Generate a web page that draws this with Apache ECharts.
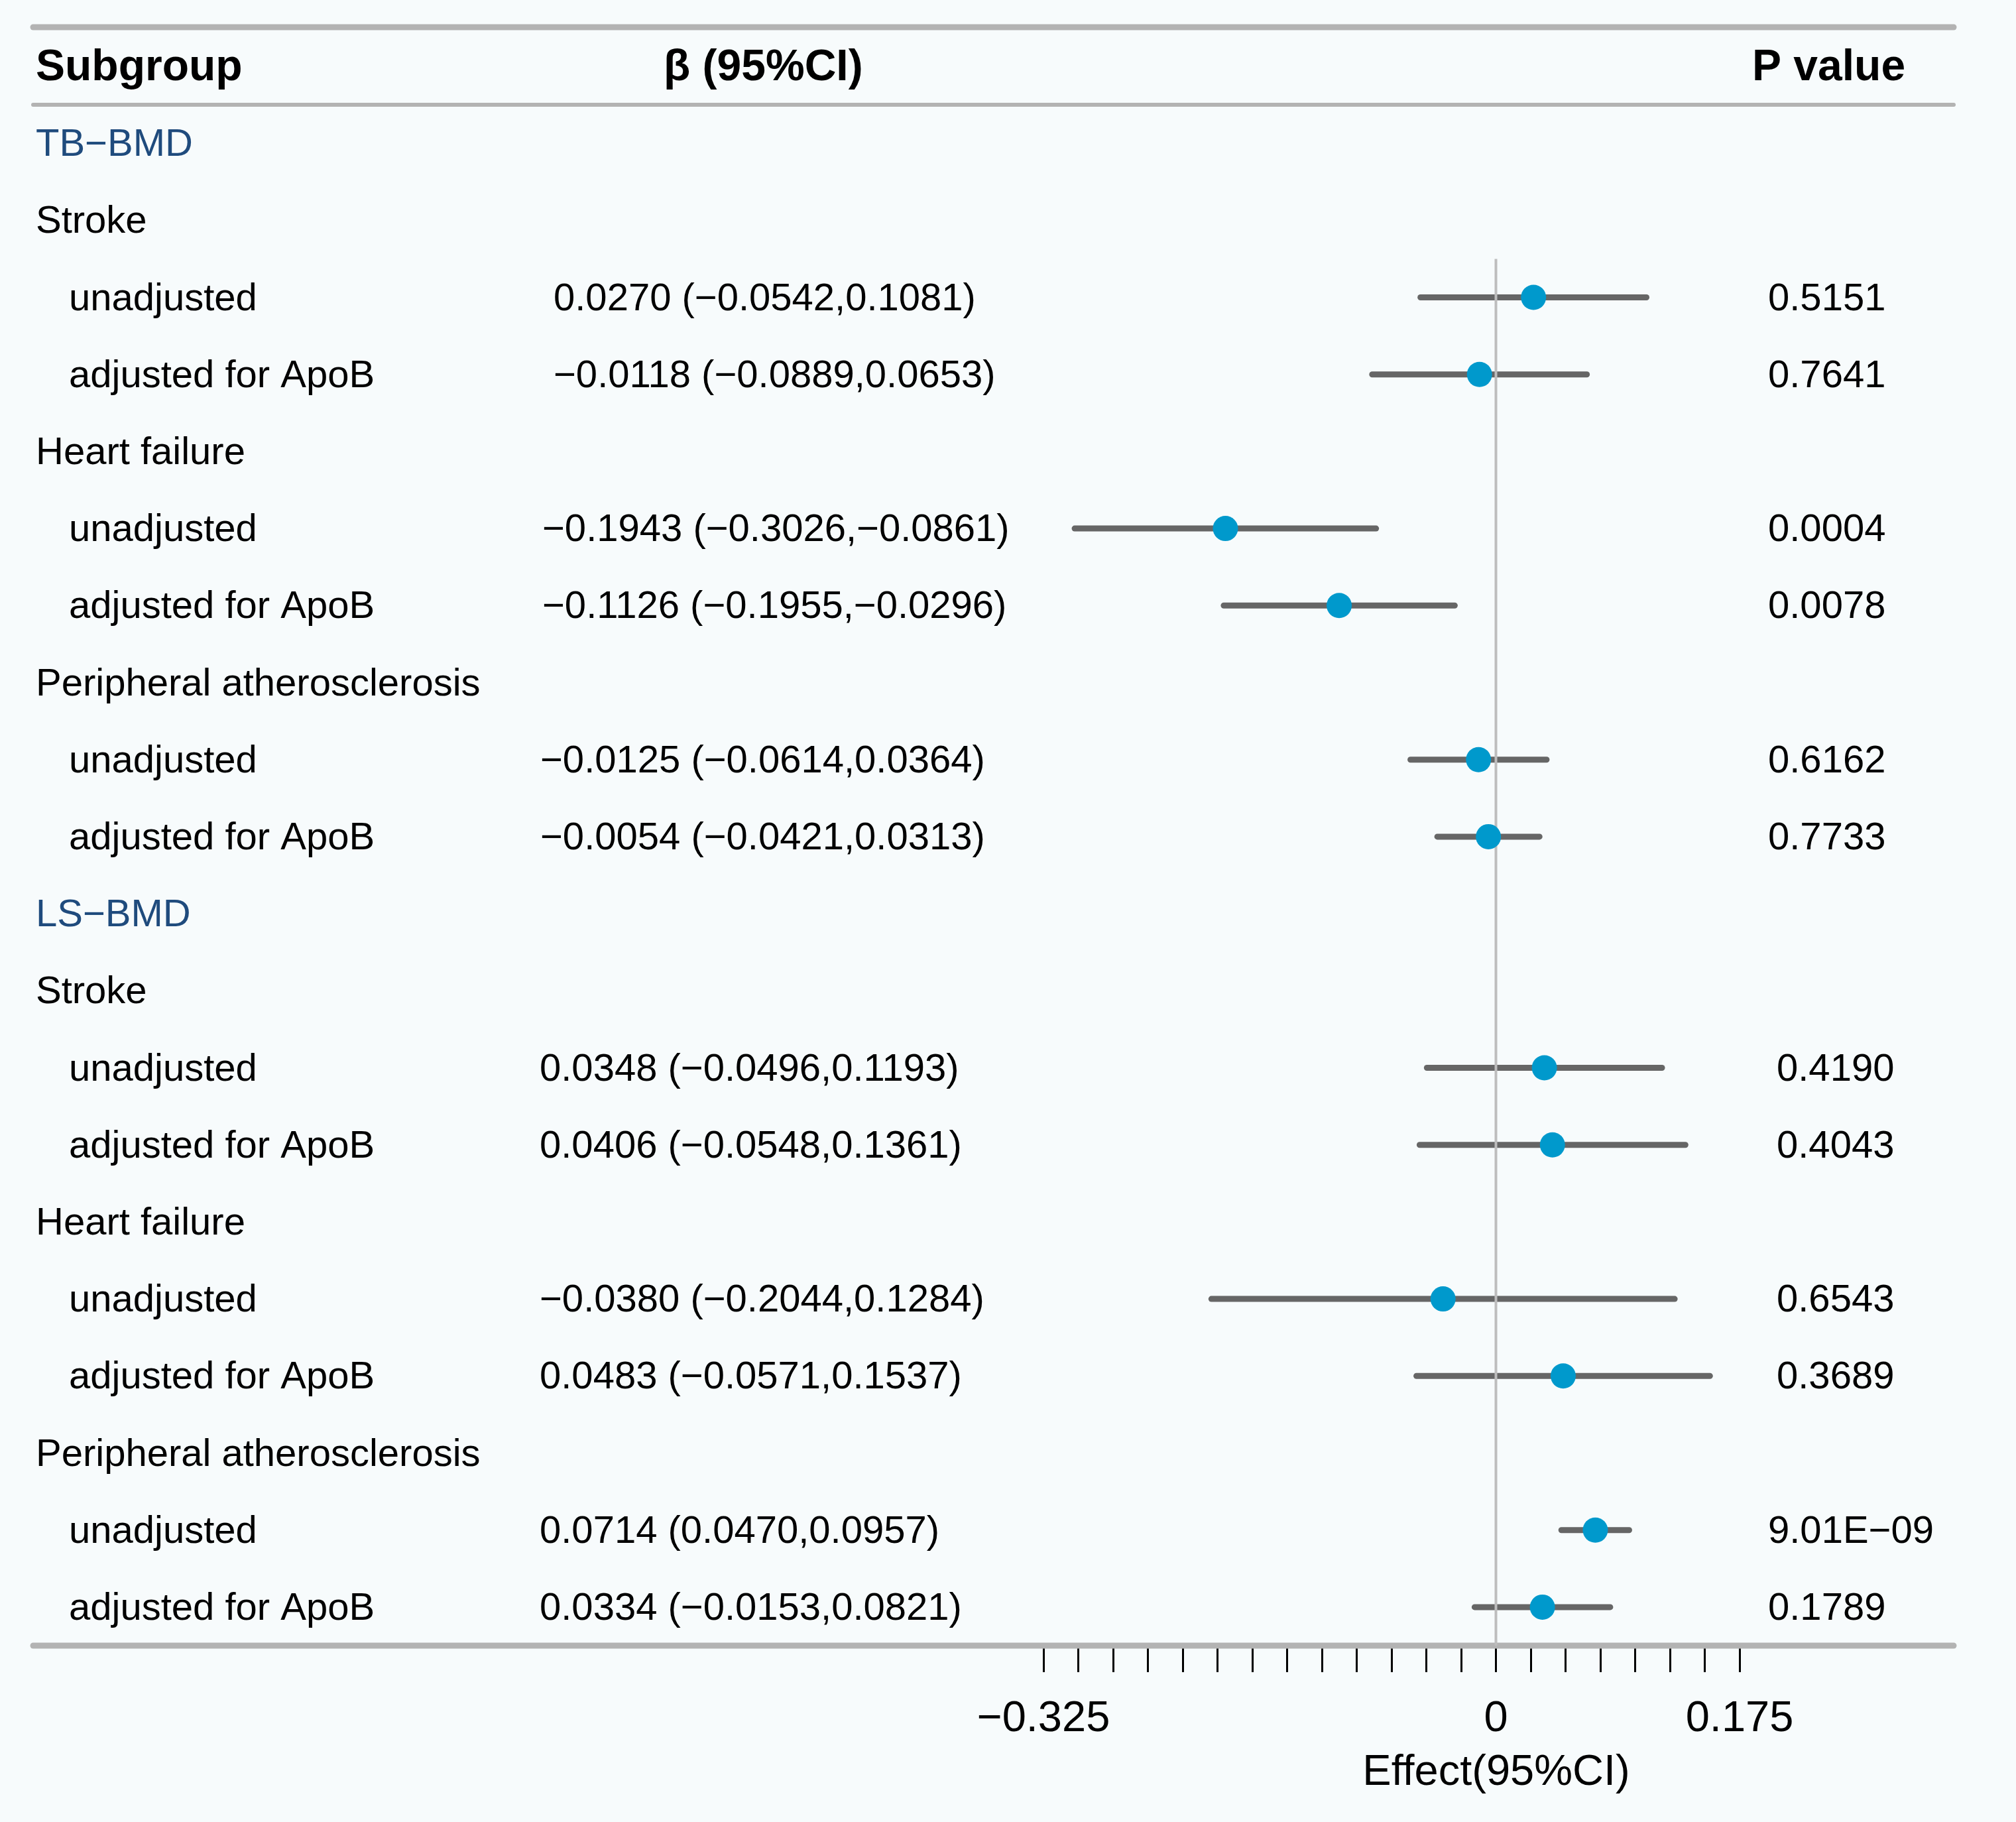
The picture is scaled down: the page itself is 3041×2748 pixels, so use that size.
<!DOCTYPE html>
<html>
<head>
<meta charset="utf-8">
<script src="https://cdn.jsdelivr.net/npm/echarts@6/dist/echarts.min.js"></script>
<style>
  html, body { margin: 0; padding: 0; background: #F7FBFC; }
  #chart { width: 3041px; height: 2748px; }
</style>
</head>
<body>
<div id="chart"></div>
<script>
// ---------------- data ----------------
const rowLabels = [
  'TB\u2212BMD',
  'Stroke', 'unadjusted', 'adjusted for ApoB',
  'Heart failure', 'unadjusted', 'adjusted for ApoB',
  'Peripheral atherosclerosis', 'unadjusted', 'adjusted for ApoB',
  'LS\u2212BMD',
  'Stroke', 'unadjusted', 'adjusted for ApoB',
  'Heart failure', 'unadjusted', 'adjusted for ApoB',
  'Peripheral atherosclerosis', 'unadjusted', 'adjusted for ApoB'
];
// 0 = exposure header, 1 = outcome, 2 = model
const rowLevels = [0, 1, 2, 2, 1, 2, 2, 1, 2, 2, 0, 1, 2, 2, 1, 2, 2, 1, 2, 2];

const ciTexts = [
  '', '', '0.0270 (\u22120.0542,0.1081)', '\u22120.0118 (\u22120.0889,0.0653)',
  '', '\u22120.1943 (\u22120.3026,\u22120.0861)', '\u22120.1126 (\u22120.1955,\u22120.0296)',
  '', '\u22120.0125 (\u22120.0614,0.0364)', '\u22120.0054 (\u22120.0421,0.0313)',
  '', '', '0.0348 (\u22120.0496,0.1193)', '0.0406 (\u22120.0548,0.1361)',
  '', '\u22120.0380 (\u22120.2044,0.1284)', '0.0483 (\u22120.0571,0.1537)',
  '', '0.0714 (0.0470,0.0957)', '0.0334 (\u22120.0153,0.0821)'
];
const pTexts = [
  '', '', '0.5151', '0.7641',
  '', '0.0004', '0.0078',
  '', '0.6162', '0.7733',
  '', '', '0.4190', '0.4043',
  '', '0.6543', '0.3689',
  '', '9.01E\u221209', '0.1789'
];
const beta  = [null, null, 0.0270, -0.0118, null, -0.1943, -0.1126, null, -0.0125, -0.0054,
               null, null, 0.0348, 0.0406, null, -0.0380, 0.0483, null, 0.0714, 0.0334];
const lower = [null, null, -0.0542, -0.0889, null, -0.3026, -0.1955, null, -0.0614, -0.0421,
               null, null, -0.0496, -0.0548, null, -0.2044, -0.0571, null, 0.0470, -0.0153];
const upper = [null, null, 0.1081, 0.0653, null, -0.0861, -0.0296, null, 0.0364, 0.0313,
               null, null, 0.1193, 0.1361, null, 0.1284, 0.1537, null, 0.0957, 0.0821];
const headerTexts = ['Subgroup', '\u03b2 (95%CI)', 'P value'];
const tickLabelValues = [-0.325, 0, 0.175];
const axisTitle = 'Effect(95%CI)';

// ---------------- layout (pixels) ----------------
const W = 3041, H = 2748;
const gridTop = 158, gridBottomY = 2482;
const plotLeft = 1574, plotRight = 2624;
const labelXByLevel = [54, 54, 104];
const ciX = [0, 0, 835, 835, 0, 818, 818, 0, 815, 815, 0, 0, 814, 814, 0, 814, 814, 0, 814, 814];
const pX  = [0, 0, 2667, 2667, 0, 2667, 2667, 0, 2667, 2667, 0, 0, 2680, 2680, 0, 2680, 2680, 0, 2667, 2667];
const FONT = '"Liberation Sans", Arial, Helvetica, sans-serif';
const BODY = 58;
const TEXT_DY = 3;

const nRows = rowLabels.length;

const ciData = [], ptData = [], textData = [];
for (let i = 0; i < nRows; i++) {
  if (beta[i] !== null) {
    ciData.push([lower[i], upper[i], i]);
    ptData.push([beta[i], i]);
  }
  textData.push([i]);
}

function eq(a, b) { return Math.abs(a - b) < 1e-9; }
function fmtTick(v) {
  for (const t of tickLabelValues) {
    if (eq(v, t)) {
      if (eq(t, 0)) return '0';
      const s = Math.abs(t).toString();
      return (t < 0 ? '\u2212' : '') + s;
    }
  }
  return '';
}

const chart = echarts.init(document.getElementById('chart'), null, { renderer: 'canvas', width: W, height: H });

const option = {
  backgroundColor: '#F7FBFC',
  animation: false,
  grid: [
    { left: plotLeft, width: plotRight - plotLeft, top: gridTop, height: gridBottomY - gridTop, containLabel: false },
    { left: 0, width: W, top: gridTop, height: gridBottomY - gridTop, containLabel: false }
  ],
  xAxis: [
    {
      gridIndex: 0, type: 'value', min: -0.325, max: 0.175, interval: 0.025,
      axisLine: { show: true, onZero: false, lineStyle: { color: '#000', width: 4 } },
      axisTick: { show: true, inside: false, length: 40, lineStyle: { color: '#000', width: 3 } },
      axisLabel: {
        show: true, margin: 79, formatter: fmtTick, showMinLabel: true, showMaxLabel: true,
        fontFamily: FONT, fontSize: 65, color: '#000'
      },
      splitLine: { show: false }
    },
    { gridIndex: 1, type: 'value', min: 0, max: W, show: false }
  ],
  yAxis: [
    { gridIndex: 0, type: 'value', inverse: true, min: -0.5, max: nRows - 0.5, show: false },
    { gridIndex: 1, type: 'value', inverse: true, min: -0.5, max: nRows - 0.5, show: false }
  ],
  graphic: [
    { type: 'line', z: 1, shape: { x1: 50, y1: 41, x2: 2947, y2: 41 }, style: { stroke: '#B3B3B3', lineWidth: 9, lineCap: 'round' } },
    { type: 'line', z: 1, shape: { x1: 50, y1: 158, x2: 2947, y2: 158 }, style: { stroke: '#B3B3B3', lineWidth: 6, lineCap: 'round' } },
    { type: 'line', z: 1, shape: { x1: 50, y1: 2482, x2: 2947, y2: 2482 }, style: { stroke: '#B3B3B3', lineWidth: 9, lineCap: 'round' } },
    { type: 'text', z: 10, x: 54, y: 103, style: { text: headerTexts[0], font: 'bold 66px ' + FONT, fill: '#000', align: 'left', verticalAlign: 'middle' } },
    { type: 'text', z: 10, x: 1001, y: 103, style: { text: headerTexts[1], font: 'bold 66px ' + FONT, fill: '#000', align: 'left', verticalAlign: 'middle' } },
    { type: 'text', z: 10, x: 2643, y: 103, style: { text: headerTexts[2], font: 'bold 66px ' + FONT, fill: '#000', align: 'left', verticalAlign: 'middle' } },
    { type: 'text', z: 10, x: 2257, y: 2674, style: { text: axisTitle, font: '65px ' + FONT, fill: '#000', align: 'center', verticalAlign: 'middle' } }
  ],
  series: [
    {
      name: 'text', type: 'custom', xAxisIndex: 1, yAxisIndex: 1, silent: true, clip: false, z: 5,
      data: textData,
      encode: { y: 0 },
      renderItem: function (params, api) {
        const i = api.value(0);
        const lvl = rowLevels[i];
        const y = api.coord([0, i])[1] + TEXT_DY;
        const children = [{
          type: 'text',
          x: api.coord([labelXByLevel[lvl], i])[0], y: y,
          style: {
            text: rowLabels[i], font: BODY + 'px ' + FONT,
            fill: lvl === 0 ? '#1F4B7D' : '#000', align: 'left', verticalAlign: 'middle'
          }
        }];
        if (ciTexts[i]) {
          children.push({ type: 'text', x: api.coord([ciX[i], i])[0], y: y,
            style: { text: ciTexts[i], font: BODY + 'px ' + FONT, fill: '#000', align: 'left', verticalAlign: 'middle' } });
        }
        if (pTexts[i]) {
          children.push({ type: 'text', x: api.coord([pX[i], i])[0], y: y,
            style: { text: pTexts[i], font: BODY + 'px ' + FONT, fill: '#000', align: 'left', verticalAlign: 'middle' } });
        }
        return { type: 'group', children: children };
      }
    },
    {
      name: 'CI', type: 'custom', xAxisIndex: 0, yAxisIndex: 0, silent: true, z: 2,
      data: ciData,
      encode: { x: [0, 1], y: 2 },
      renderItem: function (params, api) {
        const p1 = api.coord([api.value(0), api.value(2)]);
        const p2 = api.coord([api.value(1), api.value(2)]);
        return {
          type: 'line',
          shape: { x1: p1[0], y1: p1[1], x2: p2[0], y2: p2[1] },
          style: { stroke: '#666666', lineWidth: 9, lineCap: 'round' }
        };
      }
    },
    {
      name: 'ref', type: 'line', xAxisIndex: 0, yAxisIndex: 0, silent: true, z: 3,
      showSymbol: false, symbol: 'none',
      data: [[0, 1.5], [0, nRows - 0.5]],
      lineStyle: { color: '#BDBDBD', width: 4 }
    },
    {
      name: 'beta', type: 'scatter', xAxisIndex: 0, yAxisIndex: 0, silent: true, z: 4,
      symbol: 'circle', symbolSize: 38,
      itemStyle: { color: '#0099CC', opacity: 1 },
      data: ptData
    }
  ]
};
chart.setOption(option);
</script>
</body>
</html>
